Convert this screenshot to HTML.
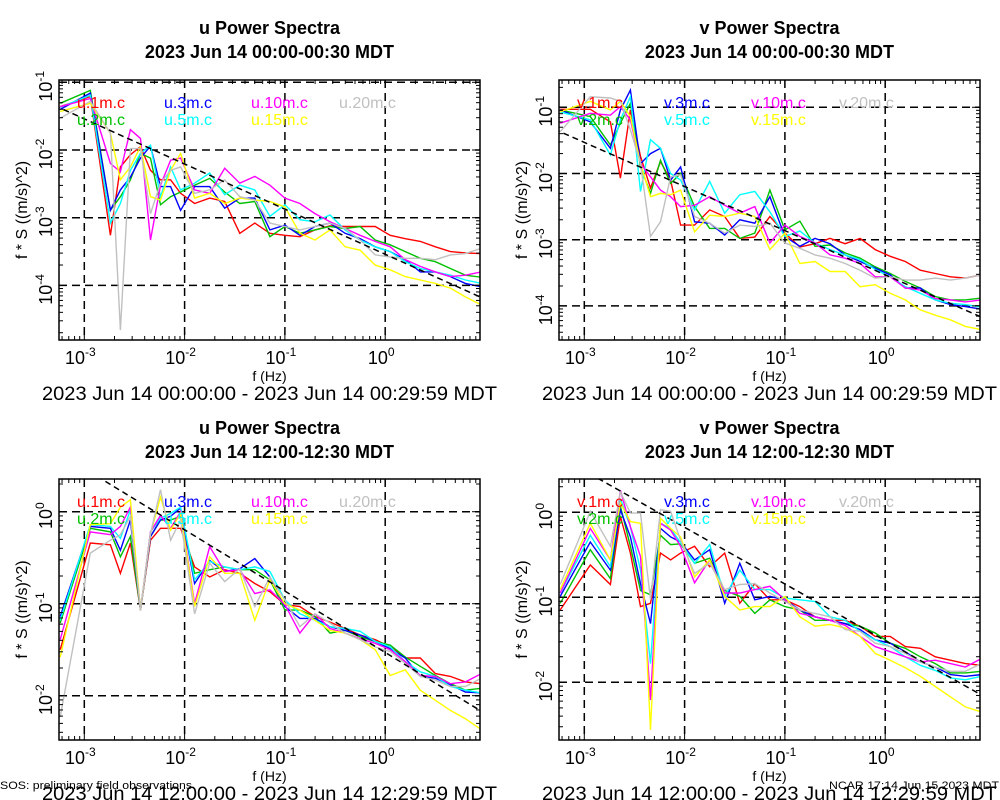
<!DOCTYPE html>
<html><head><meta charset="utf-8"><style>
html,body{margin:0;padding:0;background:#fff;}
svg{display:block;font-family:"Liberation Sans",sans-serif;}
</style></head><body>
<svg id="chart" width="1000" height="800" viewBox="0 0 1000 800" xmlns="http://www.w3.org/2000/svg">
<rect width="1000" height="800" fill="#fff"/>
<text x="0" y="789" font-size="11" textLength="192" lengthAdjust="spacingAndGlyphs">SOS: preliminary field observations</text>
<text x="999" y="789" font-size="11" text-anchor="end" textLength="170" lengthAdjust="spacingAndGlyphs">NCAR 17:14 Jun 15 2023 MDT</text>
</svg>
<script>
// frequency grid (log10 Hz) shared by all series
const logFreq = [-3.24,-2.94,-2.74,-2.64,-2.54,-2.44,-2.34,-2.24,-2.14,-2.04,-1.9,-1.75,-1.6,-1.45,-1.3,-1.15,-1.0,-0.85,-0.7,-0.55,-0.4,-0.25,-0.1,0.05,0.2,0.35,0.5,0.65,0.8,0.96];
const heights = ["1m","2m","3m","5m","10m","15m","20m"];
const seriesColors = ["#ff0000","#00c000","#0000ff","#00ffff","#ff00ff","#ffff00","#c0c0c0"];
// log10 spectral values, per panel, per height (1m,2m,3m,5m,10m,15m,20m)
const uNight = [
[-1.36,-1.21,-3.26,-2.25,-2.07,-1.95,-2.30,-2.44,-2.44,-2.64,-2.79,-2.71,-2.76,-3.23,-3.08,-3.23,-3.26,-3.28,-3.18,-3.12,-3.13,-3.13,-3.13,-3.26,-3.31,-3.35,-3.43,-3.50,-3.52,-3.53],
[-1.31,-1.12,-2.89,-2.69,-2.44,-2.05,-2.12,-2.81,-2.69,-2.62,-2.52,-2.42,-2.62,-2.79,-2.76,-3.28,-3.13,-3.23,-3.18,-3.13,-3.16,-3.13,-3.33,-3.40,-3.50,-3.60,-3.65,-3.75,-3.85,-3.88],
[-1.40,-1.16,-2.89,-2.59,-2.40,-2.12,-1.94,-2.54,-2.54,-2.89,-2.54,-2.54,-2.86,-2.71,-2.71,-3.18,-3.11,-3.26,-3.13,-3.08,-3.23,-3.31,-3.43,-3.50,-3.62,-3.80,-3.80,-3.87,-3.97,-4.02],
[-1.37,-1.19,-3.08,-2.79,-2.30,-2.05,-1.93,-2.69,-2.25,-2.59,-2.49,-2.34,-2.66,-2.52,-2.59,-2.98,-2.81,-3.03,-3.06,-2.96,-3.18,-3.33,-3.43,-3.50,-3.65,-3.75,-3.80,-3.85,-3.92,-3.97],
[-1.36,-1.24,-2.20,-2.32,-1.70,-1.83,-3.33,-2.52,-2.15,-2.12,-2.59,-2.64,-2.27,-2.49,-2.39,-2.52,-2.71,-2.79,-2.94,-3.06,-3.16,-3.26,-3.35,-3.43,-3.62,-3.72,-3.80,-3.87,-3.85,-3.80],
[-1.43,-1.31,-1.75,-2.44,-2.25,-1.95,-2.69,-2.74,-2.30,-2.05,-2.71,-2.64,-2.79,-2.71,-2.74,-2.76,-2.84,-3.23,-3.33,-3.18,-3.43,-3.48,-3.70,-3.77,-3.87,-3.92,-3.97,-4.04,-4.17,-4.29],
[-1.53,-1.28,-1.75,-4.66,-1.98,-1.98,-2.94,-2.49,-2.30,-2.25,-2.64,-2.59,-2.44,-2.69,-2.74,-3.08,-3.13,-3.18,-3.13,-3.08,-3.16,-3.33,-3.55,-3.58,-3.60,-3.60,-3.62,-3.55,-3.53,-3.45]];
const vNight = [
[-1.03,-1.03,-1.22,-2.07,-1.04,-1.74,-2.22,-1.82,-2.10,-2.78,-2.78,-2.55,-2.65,-2.98,-2.96,-2.65,-2.90,-3.11,-3.06,-2.98,-3.06,-2.98,-3.15,-3.25,-3.33,-3.46,-3.51,-3.56,-3.58,-3.53],
[-1.04,-1.14,-1.57,-1.24,-0.94,-1.90,-2.30,-1.80,-2.15,-2.00,-2.50,-2.83,-2.83,-2.98,-2.90,-2.25,-2.85,-2.72,-3.10,-3.08,-3.20,-3.28,-3.41,-3.51,-3.63,-3.73,-3.86,-3.91,-3.91,-3.88],
[-1.04,-1.22,-1.62,-1.04,-0.74,-1.85,-1.70,-1.62,-2.10,-1.90,-2.73,-2.75,-2.93,-2.70,-2.75,-2.35,-2.95,-3.10,-2.98,-3.06,-3.23,-3.33,-3.43,-3.53,-3.73,-3.73,-3.91,-3.98,-4.01,-4.05],
[-1.07,-1.19,-1.72,-1.19,-0.84,-2.27,-1.49,-1.62,-2.00,-2.10,-2.55,-2.12,-2.60,-2.32,-2.27,-2.58,-2.95,-2.87,-3.05,-3.15,-3.23,-3.30,-3.45,-3.56,-3.71,-3.81,-3.91,-3.96,-3.98,-4.02],
[-1.24,-1.09,-1.12,-0.99,-1.19,-1.85,-2.05,-2.25,-2.35,-2.50,-2.48,-2.35,-2.48,-2.60,-2.50,-3.05,-2.78,-2.95,-3.05,-3.23,-3.28,-3.36,-3.56,-3.56,-3.73,-3.76,-3.89,-3.91,-3.94,-3.91],
[-1.07,-0.91,-1.04,-0.91,-1.14,-1.85,-2.35,-2.30,-2.32,-2.25,-2.88,-2.63,-2.65,-2.60,-2.65,-3.15,-2.90,-3.36,-3.33,-3.48,-3.48,-3.71,-3.68,-3.81,-3.91,-4.06,-4.14,-4.21,-4.31,-4.36],
[-1.37,-0.84,-0.86,-0.91,-1.34,-1.85,-2.95,-2.73,-2.05,-2.02,-2.65,-2.75,-2.90,-2.78,-2.80,-2.75,-3.05,-3.13,-3.23,-3.28,-3.36,-3.46,-3.58,-3.56,-3.61,-3.61,-3.58,-3.61,-3.58,-3.53]];
const uNoon = [
[-1.50,-0.34,-0.36,-0.67,-0.34,-1.07,-0.31,-0.18,-0.18,-0.18,-0.60,-0.71,-0.63,-0.67,-0.78,-0.87,-1.01,-1.03,-1.14,-1.20,-1.27,-1.34,-1.39,-1.47,-1.59,-1.59,-1.76,-1.79,-1.85,-1.87],
[-1.21,-0.18,-0.22,-0.49,-0.27,-1.07,-0.27,-0.09,-0.09,-0.05,-0.67,-0.63,-0.60,-0.63,-0.63,-0.74,-1.07,-1.07,-1.14,-1.32,-1.29,-1.36,-1.41,-1.45,-1.58,-1.68,-1.78,-1.87,-1.94,-1.92],
[-1.14,-0.16,-0.18,-0.42,-0.09,-1.07,-0.27,-0.09,-0.05,0.04,-0.78,-0.53,-0.65,-0.62,-0.51,-0.71,-1.03,-1.16,-1.16,-1.25,-1.29,-1.34,-1.41,-1.49,-1.59,-1.79,-1.81,-1.88,-1.96,-1.97],
[-1.18,-0.14,-0.16,-0.29,0.02,-1.07,-0.22,-0.07,-0.02,0.05,-0.74,-0.54,-0.60,-0.63,-0.60,-0.65,-0.96,-1.11,-1.18,-1.25,-1.27,-1.30,-1.41,-1.47,-1.63,-1.74,-1.79,-1.90,-1.94,-1.97],
[-1.39,-0.22,-0.25,-0.16,0.05,-1.07,-0.22,-0.04,-0.18,0.00,-1.00,-0.38,-0.65,-0.63,-0.89,-0.85,-1.01,-1.32,-1.11,-1.27,-1.32,-1.38,-1.43,-1.50,-1.63,-1.78,-1.79,-1.87,-1.85,-1.76],
[-1.58,-0.14,-0.13,0.05,0.13,-1.07,-0.24,0.16,-0.20,-0.02,-1.03,-0.49,-0.67,-0.67,-1.18,-0.74,-1.00,-1.07,-1.18,-1.29,-1.32,-1.39,-1.50,-1.78,-1.72,-1.94,-2.05,-2.16,-2.25,-2.37],
[-2.23,-0.45,-0.31,-0.25,-0.05,-1.07,-0.24,0.24,-0.31,-0.09,-1.11,-0.56,-0.76,-0.62,-1.03,-0.71,-0.96,-1.25,-1.11,-1.21,-1.32,-1.39,-1.47,-1.52,-1.65,-1.79,-1.83,-1.90,-1.90,-1.81]];
const vNoon = [
[-1.15,-0.62,-0.85,-0.05,-0.48,-1.11,-1.07,-0.48,-0.56,-0.48,-0.40,-0.64,-0.48,-1.07,-0.84,-1.03,-1.03,-1.11,-1.23,-1.27,-1.27,-1.34,-1.46,-1.46,-1.58,-1.60,-1.70,-1.74,-1.78,-1.80],
[-1.07,-0.44,-0.78,0.07,-0.40,-0.92,-0.97,-0.27,-0.38,-0.37,-0.60,-0.54,-0.92,-0.99,-1.19,-1.03,-1.11,-1.15,-1.27,-1.27,-1.31,-1.34,-1.42,-1.54,-1.60,-1.70,-1.78,-1.89,-1.89,-1.87],
[-0.99,-0.35,-0.68,0.03,-0.29,-0.84,-1.31,-0.19,-0.29,-0.35,-0.56,-0.44,-1.07,-0.60,-1.03,-0.99,-1.03,-1.15,-1.23,-1.27,-1.31,-1.38,-1.50,-1.54,-1.64,-1.76,-1.82,-1.91,-1.93,-1.91],
[-0.95,-0.27,-0.64,0.16,-0.17,-0.68,-1.78,-0.13,-0.19,-0.36,-0.60,-0.38,-0.99,-0.68,-0.91,-0.91,-1.01,-1.03,-1.05,-1.23,-1.27,-1.40,-1.50,-1.58,-1.70,-1.80,-1.86,-1.95,-1.97,-1.93],
[-0.95,-0.19,-0.56,0.26,-0.17,-0.52,-2.21,-0.13,-0.21,-0.40,-0.83,-0.56,-0.95,-0.95,-0.91,-0.87,-1.03,-1.19,-1.23,-1.27,-1.33,-1.46,-1.58,-1.64,-1.70,-1.76,-1.74,-1.78,-1.82,-1.72],
[-0.91,-0.13,-0.56,0.11,-0.11,-0.13,-2.56,-0.07,-0.19,-0.29,-0.76,-0.56,-0.99,-1.15,-1.11,-1.11,-0.99,-1.23,-1.34,-1.32,-1.36,-1.46,-1.66,-1.74,-1.83,-1.93,-2.05,-2.17,-2.29,-2.35],
[-0.85,0.01,-0.40,0.24,-0.01,-0.01,-1.03,0.03,0.01,-0.33,-0.72,-0.60,-0.91,-0.85,-0.84,-0.95,-1.05,-1.15,-1.19,-1.23,-1.38,-1.40,-1.54,-1.58,-1.66,-1.76,-1.82,-1.87,-1.87,-1.78]];
// f^(-2/3) reference line intercepts (log10 value at 1 Hz)
const refIntercepts = [-3.54,-3.53,-1.53,-1.51];
const xTicks = [-3,-2,-1,0];
const yTicksTop = [-1,-2,-3,-4];
const yTicksBottom = [0,-1,-2];

const NS = "http://www.w3.org/2000/svg";
const svg = document.getElementById('chart');
function mk(tag, attrs, parent){const e=document.createElementNS(NS,tag);for(const k in attrs)e.setAttribute(k,attrs[k]);(parent||svg).appendChild(e);return e;}

const panels = [
 {comp:"u", title2:"2023 Jun 14 00:00-00:30 MDT", date:"2023 Jun 14 00:00:00 - 2023 Jun 14 00:29:59 MDT", data:uNight, dx:0, y0:80, y1:340, yRef:150, eRef:-2, ppd:67.7, ticks:yTicksTop, top:0},
 {comp:"v", title2:"2023 Jun 14 00:00-00:30 MDT", date:"2023 Jun 14 00:00:00 - 2023 Jun 14 00:29:59 MDT", data:vNight, dx:500, y0:80, y1:340, yRef:107.3, eRef:-1, ppd:66.2, ticks:yTicksTop, top:0},
 {comp:"u", title2:"2023 Jun 14 12:00-12:30 MDT", date:"2023 Jun 14 12:00:00 - 2023 Jun 14 12:29:59 MDT", data:uNoon, dx:0, y0:479, y1:740, yRef:511.7, eRef:0, ppd:92, ticks:yTicksBottom, top:400},
 {comp:"v", title2:"2023 Jun 14 12:00-12:30 MDT", date:"2023 Jun 14 12:00:00 - 2023 Jun 14 12:29:59 MDT", data:vNoon, dx:500, y0:479, y1:740, yRef:512.3, eRef:0, ppd:85, ticks:yTicksBottom, top:400}
];
const legendCols=[0,87,174,262];
panels.forEach((p,pi)=>{
  const x0=59+p.dx, x1=480+p.dx;
  const X = lf => 84.3 + p.dx + (lf+3)*100.3;
  const Y = e => p.yRef - (e - p.eRef)*p.ppd;
  const g = mk('g',{});
  
  
  const cx=(x0+x1)/2;
  let t=mk('text',{x:cx,y:p.top+34,'font-size':18,'font-weight':'bold','text-anchor':'middle'},g); t.textContent=p.comp+" Power Spectra";
  
  
  t=mk('text',{x:cx,y:p.top+58,'font-size':18,'font-weight':'bold','text-anchor':'middle'},g); t.textContent=p.title2;
  
  
  const clipId='clip'+pi;
  const cp=mk('clipPath',{id:clipId},g); mk('rect',{x:x0,y:p.y0,width:x1-x0,height:p.y1-p.y0},cp);
  xTicks.forEach(v=>{const l=mk('line',{x1:X(v),x2:X(v),y1:p.y0,y2:p.y1,stroke:'#000','stroke-width':1.5,'stroke-dasharray':'8,5'},g);
    
    });
  p.ticks.forEach(v=>{const l=mk('line',{x1:x0,x2:x1,y1:Y(v),y2:Y(v),stroke:'#000','stroke-width':1.5,'stroke-dasharray':'8,5'},g);
    
    });
  p.data.forEach((s,si)=>{
    const pts=s.map((v,i)=>X(logFreq[i]).toFixed(1)+','+Y(v).toFixed(1)).join(' ');
    const pl=mk('polyline',{points:pts,fill:'none',stroke:seriesColors[si],'stroke-width':1.4,'clip-path':'url(#'+clipId+')'},g);
    
    
  });
  const la=-3.3, lb=1.0;
  const rl=mk('line',{x1:X(la),y1:Y(refIntercepts[pi]-2/3*la),x2:X(lb),y2:Y(refIntercepts[pi]-2/3*lb),stroke:'#000','stroke-width':1.5,'stroke-dasharray':'6,4','clip-path':'url(#'+clipId+')'},g);
  
  
  const ly = p.y0 + 28;
  heights.forEach((h,si)=>{
    const col = si<6 ? Math.floor(si/2) : 3, row = si<6 ? si%2 : 0;
    const lt=mk('text',{x:x0+18+legendCols[col],y:ly+row*17,'font-size':16,fill:seriesColors[si]},g);
    lt.textContent=p.comp+"."+h+".c";
    
    
  });
  const fr=mk('rect',{x:x0,y:p.y0,width:x1-x0,height:p.y1-p.y0,fill:'none',stroke:'#000','stroke-width':1.5},g);
  
  
  for(let d=-4; d<=0; d++){for(let m=1;m<=9;m++){const lf=d+Math.log10(m); const xx=X(lf); if(xx<x0||xx>x1)continue;
    const len=m==1?8:4;
    mk('line',{x1:xx,x2:xx,y1:p.y1,y2:p.y1-len,stroke:'#000','stroke-width':1},g);
    mk('line',{x1:xx,x2:xx,y1:p.y0,y2:p.y0+len,stroke:'#000','stroke-width':1},g);}}
  for(let d=-6; d<=1; d++){for(let m=1;m<=9;m++){const e=d+Math.log10(m); const yy=Y(e); if(yy<p.y0||yy>p.y1)continue;
    const len=m==1?8:4;
    mk('line',{x1:x0,x2:x0+len,y1:yy,y2:yy,stroke:'#000','stroke-width':1},g);
    mk('line',{x1:x1,x2:x1-len,y1:yy,y2:yy,stroke:'#000','stroke-width':1},g);}}
  xTicks.forEach(v=>{const tx=mk('text',{x:X(v)-4,y:p.y1+24,'font-size':18,'text-anchor':'middle'},g);
    tx.textContent="10"; const sp=mk('tspan',{dy:-8,'font-size':12},tx); sp.textContent=String(v);
    
    });
  p.ticks.forEach(v=>{const yy=Y(v);const ty=mk('text',{x:0,y:0,'font-size':18,'text-anchor':'middle',transform:'translate('+(x0-7)+','+(yy+4)+') rotate(-90)'},g);
    ty.textContent="10"; const sp=mk('tspan',{dy:-8,'font-size':12},ty); sp.textContent=String(v);
    
    });
  t=mk('text',{x:cx,y:p.y1+41,'font-size':14,'text-anchor':'middle'},g); t.textContent="f (Hz)";
  
  
  t=mk('text',{x:cx,y:p.y1+60,'font-size':19,'text-anchor':'middle',textLength:455,lengthAdjust:'spacingAndGlyphs'},g); t.textContent=p.date;
  
  
  t=mk('text',{x:0,y:0,'font-size':16,'text-anchor':'middle',transform:'translate('+(x0-32)+','+((p.y0+p.y1)/2)+') rotate(-90)'},g); t.textContent="f * S ((m/s)^2)";
  
  
});
</script>
</body></html>
